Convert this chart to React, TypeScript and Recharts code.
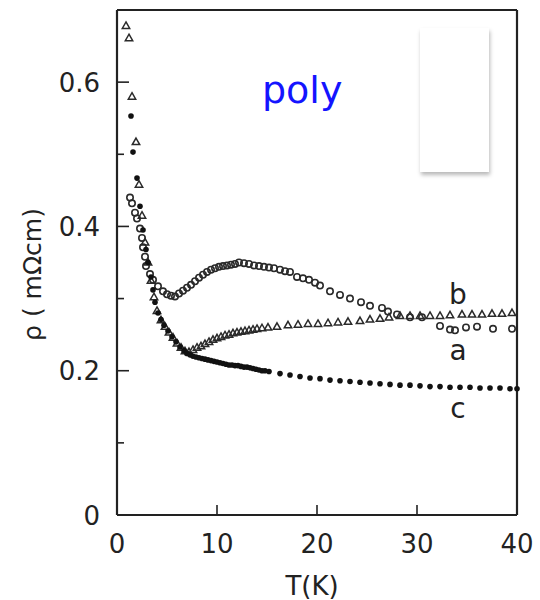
import React from "react";
import { ScatterChart, Scatter, XAxis, YAxis, ReferenceDot, Label } from "recharts";

// resistivity curves, [T (K), rho (mOhm cm)]
const curveA: [number, number][] = [
  [0.9, 0.678], [1.2, 0.661], [1.5, 0.58], [1.9, 0.517], [2.2, 0.458], [2.5, 0.415], [2.8, 0.378],
  [3.1, 0.35], [3.4, 0.325], [3.7, 0.302], [4.0, 0.283], [4.4, 0.27], [4.8, 0.261], [5.2, 0.253],
  [5.6, 0.246], [6.0, 0.238], [6.4, 0.232], [6.8, 0.227], [7.2, 0.226], [7.6, 0.229], [8.0, 0.232],
  [8.4, 0.234], [8.8, 0.237], [9.2, 0.24], [9.6, 0.243], [10.0, 0.245], [10.4, 0.247], [10.8, 0.249],
  [11.2, 0.25], [11.6, 0.252], [12.0, 0.253], [12.4, 0.254], [12.8, 0.255], [13.2, 0.256], [13.6, 0.257],
  [14.0, 0.258], [14.5, 0.259], [15.1, 0.26], [16.0, 0.261], [17.1, 0.263], [18.1, 0.264], [19.1, 0.265],
  [20.1, 0.265], [21.1, 0.266], [22.1, 0.267], [23.1, 0.268], [24.3, 0.269], [25.3, 0.271], [26.3, 0.272],
  [27.2, 0.274], [28.3, 0.276], [29.3, 0.276], [30.3, 0.276], [31.3, 0.276], [32.3, 0.276], [33.3, 0.277],
  [34.5, 0.278], [35.5, 0.278], [36.5, 0.278], [37.5, 0.279], [38.5, 0.279], [39.5, 0.28],
];

const curveB: [number, number][] = [
  [1.3, 0.44], [1.5, 0.432], [1.8, 0.419], [2.0, 0.411], [2.3, 0.397], [2.5, 0.384], [2.6, 0.371],
  [2.8, 0.358], [2.9, 0.345], [3.3, 0.334], [3.6, 0.326], [4.1, 0.317], [4.6, 0.31], [5.0, 0.306],
  [5.4, 0.304], [5.8, 0.303], [6.2, 0.307], [6.6, 0.311], [7.0, 0.315], [7.4, 0.319], [7.8, 0.324],
  [8.2, 0.329], [8.6, 0.333], [9.0, 0.337], [9.4, 0.34], [9.8, 0.342], [10.2, 0.344], [10.6, 0.345],
  [11.0, 0.346], [11.4, 0.347], [11.8, 0.348], [12.2, 0.35], [12.7, 0.349], [13.2, 0.348], [13.7, 0.346],
  [14.2, 0.345], [14.7, 0.344], [15.2, 0.343], [15.7, 0.342], [16.3, 0.34], [16.8, 0.338], [17.3, 0.337],
  [18.0, 0.33], [18.6, 0.328], [19.2, 0.326], [19.8, 0.322], [20.3, 0.318], [21.3, 0.31], [22.3, 0.305],
  [23.3, 0.3], [24.4, 0.295], [25.3, 0.29], [26.5, 0.287], [27.1, 0.282], [28.0, 0.278], [29.3, 0.274],
  [30.5, 0.274], [32.3, 0.262], [33.3, 0.257], [33.8, 0.256], [34.9, 0.26], [36.0, 0.261], [37.6, 0.258],
  [39.5, 0.258],
];

const curveC: [number, number][] = [
  [1.4, 0.553], [1.6, 0.503], [2.0, 0.467], [2.3, 0.428], [2.6, 0.395], [2.9, 0.368], [3.1, 0.35],
  [3.4, 0.33], [3.6, 0.312], [3.8, 0.295], [4.1, 0.28], [4.4, 0.271], [4.7, 0.263], [5.1, 0.255],
  [5.5, 0.247], [5.9, 0.24], [6.3, 0.233], [6.7, 0.228], [7.0, 0.224], [7.3, 0.222], [7.6, 0.22],
  [7.9, 0.219], [8.2, 0.218], [8.5, 0.217], [8.8, 0.216], [9.1, 0.215], [9.4, 0.214], [9.7, 0.213],
  [10.0, 0.212], [10.3, 0.211], [10.6, 0.21], [10.9, 0.209], [11.2, 0.208], [11.5, 0.208], [11.8, 0.207],
  [12.1, 0.207], [12.4, 0.206], [12.7, 0.205], [13.0, 0.205], [13.3, 0.204], [13.6, 0.203], [13.9, 0.202],
  [14.2, 0.201], [14.5, 0.2], [14.8, 0.2], [15.2, 0.199], [16.3, 0.196], [17.3, 0.194], [18.3, 0.192],
  [19.3, 0.19], [20.3, 0.189], [21.3, 0.187], [22.3, 0.186], [23.3, 0.185], [24.3, 0.184], [25.3, 0.183],
  [26.3, 0.182], [27.3, 0.181], [28.3, 0.18], [29.3, 0.18], [30.3, 0.179], [31.3, 0.178], [32.3, 0.178],
  [33.3, 0.177], [34.3, 0.177], [35.3, 0.177], [36.3, 0.176], [37.3, 0.176], [38.3, 0.176], [39.3, 0.175],
  [40.0, 0.175],
];

const tempTicks = [0, 10, 20, 30, 40];
const rhoTicks = [0, 0.1, 0.2, 0.3, 0.4, 0.5, 0.6, 0.7];
const rhoLabelled = [0, 0.2, 0.4, 0.6];

// curve names written next to the right-hand ends
const curveNames = [
  { name: "b", T: 34.1, rho: 0.306 },
  { name: "a", T: 34.1, rho: 0.228 },
  { name: "c", T: 34.1, rho: 0.148 },
];

const toPoints = (arr: [number, number][]) => arr.map(([T, rho]) => ({ T, rho }));

const INK = "#222";
const FONT = "'DejaVu Sans', sans-serif";

// all ticks point into the frame
function BottomTick({ x, y, payload }: any) {
  const v = payload.value;
  return (
    <g>
      {v > 0 && v < 40 && <line x1={x} y1={y} x2={x} y2={y - 10} stroke={INK} strokeWidth={1.6} />}
      <text x={x} y={y + 38} textAnchor="middle" fontSize={26} fill={INK} fontFamily={FONT}>
        {v}
      </text>
    </g>
  );
}

function TopTick({ x, y, payload }: any) {
  const v = payload.value;
  if (v <= 0 || v >= 40) return <g />;
  return <line x1={x} y1={y} x2={x} y2={y + 10} stroke={INK} strokeWidth={1.6} />;
}

function LeftTick({ x, y, payload }: any) {
  const v = payload.value;
  const major = rhoLabelled.includes(v);
  return (
    <g>
      {v > 0 && v < 0.7 && <line x1={x} y1={y} x2={x + (major ? 12 : 7)} y2={y} stroke={INK} strokeWidth={1.6} />}
      {major && (
        <text x={x - 17} y={y + 9.5} textAnchor="end" fontSize={26} fill={INK} fontFamily={FONT}>
          {v === 0 ? "0" : v.toFixed(1)}
        </text>
      )}
    </g>
  );
}

function RightTick({ x, y, payload }: any) {
  const v = payload.value;
  if (v <= 0 || v >= 0.7) return <g />;
  const major = rhoLabelled.includes(v);
  return <line x1={x} y1={y} x2={x - (major ? 12 : 6)} y2={y} stroke={INK} strokeWidth={1.6} />;
}

const OpenCircle = (p: any) => (
  <circle cx={p.cx} cy={p.cy} r={3.2} fill="none" stroke="#2a2a2a" strokeWidth={1.6} />
);

const OpenTriangle = (p: any) => (
  <path
    d={`M${p.cx},${p.cy - 3.9} L${p.cx + 3.7},${p.cy + 2.6} L${p.cx - 3.7},${p.cy + 2.6} Z`}
    fill="none"
    stroke="#2a2a2a"
    strokeWidth={1.5}
  />
);

const FilledDot = (p: any) => <circle cx={p.cx} cy={p.cy} r={2.8} fill="#111" />;

export default function App() {
  const frame = { stroke: INK, strokeWidth: 2.2 };
  return (
    <div style={{ position: "absolute", left: 0, top: 0, width: 540, height: 600, background: "#fff" }}>
      <ScatterChart width={540} height={600} margin={{ top: 8, right: 20, bottom: 5, left: 60 }}>
        <XAxis
          xAxisId={0}
          type="number"
          dataKey="T"
          domain={[0, 40]}
          ticks={tempTicks}
          interval={0}
          height={80}
          axisLine={frame}
          tickLine={false}
          tickSize={0}
          tickMargin={0}
          tick={<BottomTick />}
        >
          <Label
            content={(props: any) => {
              const vb = props.viewBox;
              return (
                <text x={vb.x + vb.width / 2 - 5} y={vb.y + 80} textAnchor="middle" fontSize={26} fill={INK} fontFamily={FONT}>
                  T(K)
                </text>
              );
            }}
          />
        </XAxis>
        <XAxis
          xAxisId="top"
          orientation="top"
          type="number"
          dataKey="T"
          domain={[0, 40]}
          ticks={tempTicks}
          interval={0}
          height={2}
          axisLine={frame}
          tickLine={false}
          tickSize={0}
          tickMargin={0}
          tick={<TopTick />}
        />
        <YAxis
          yAxisId={0}
          type="number"
          dataKey="rho"
          domain={[0, 0.7]}
          ticks={rhoTicks}
          interval={0}
          width={57}
          axisLine={frame}
          tickLine={false}
          tickSize={0}
          tickMargin={0}
          tick={<LeftTick />}
        >
          <Label
            content={(props: any) => {
              const vb = props.viewBox;
              const cx = vb.x - 28;
              const cy = vb.y + vb.height / 2 + 12;
              return (
                <text
                  x={cx}
                  y={cy}
                  transform={`rotate(-90 ${cx} ${cy})`}
                  textAnchor="middle"
                  dominantBaseline="central"
                  fontSize={25}
                  fill={INK}
                  fontFamily={FONT}
                >
                  ρ ( mΩcm)
                </text>
              );
            }}
          />
        </YAxis>
        <YAxis
          yAxisId="right"
          orientation="right"
          type="number"
          dataKey="rho"
          domain={[0, 0.7]}
          ticks={rhoTicks}
          interval={0}
          width={3}
          axisLine={frame}
          tickLine={false}
          tickSize={0}
          tickMargin={0}
          tick={<RightTick />}
        />

        <Scatter data={toPoints(curveB)} shape={OpenCircle} isAnimationActive={false} />
        <Scatter data={toPoints(curveA)} shape={OpenTriangle} isAnimationActive={false} />
        <Scatter data={toPoints(curveC)} shape={FilledDot} isAnimationActive={false} />

        {curveNames.map((c) => (
          <ReferenceDot
            key={c.name}
            x={c.T}
            y={c.rho}
            r={0}
            shape={(p: any) => (
              <text x={p.cx} y={p.cy} textAnchor="middle" dominantBaseline="central" fontSize={28} fill={INK} fontFamily={FONT}>
                {c.name}
              </text>
            )}
          />
        ))}
      </ScatterChart>

      <div
        style={{
          position: "absolute",
          left: 420,
          top: 28,
          width: 69,
          height: 144,
          background: "#fff",
          boxShadow: "1px 3px 4px rgba(0,0,0,0.28)",
        }}
      />
      <div
        style={{
          position: "absolute",
          left: 262,
          top: 68,
          fontFamily: FONT,
          fontSize: 38,
          color: "#1414ff",
          lineHeight: "44px",
        }}
      >
        poly
      </div>
    </div>
  );
}
